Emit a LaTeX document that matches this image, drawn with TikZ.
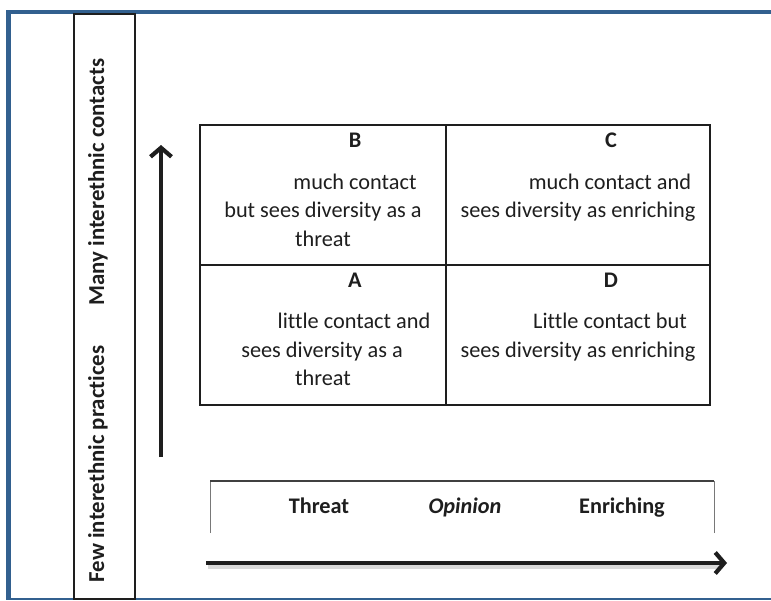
\documentclass[tikz,border=0pt]{standalone}
\usepackage{fontspec}
\setmainfont{Carlito}[Ligatures=NoCommon]
\usetikzlibrary{arrows.meta}
\definecolor{frameblue}{RGB}{50,96,143}
\definecolor{ink}{RGB}{30,30,30}
\tikzset{
  txt/.style={inner sep=0pt, anchor=base, font=\fontsize{22.3}{26}\selectfont, text=ink},
  lab/.style={inner sep=0pt, anchor=base, font=\fontsize{22.3}{26}\selectfont\bfseries, text=ink},
  vlab/.style={inner sep=0pt, rotate=90, font=\fontsize{22.8}{26}\selectfont\bfseries, text=ink},
  gridline/.style={draw=ink, line width=1.9pt},
  axis/.style={draw=ink, line width=4.2pt, -{Straight Barb[length=9pt,width=21pt]}},
}
\begin{document}
\begin{tikzpicture}[x=1pt,y=-1pt]
\useasboundingbox (0,0) rectangle (771,600);
% frame
\draw[frameblue, line width=4.5pt] (772,12) -- (8.5,12) -- (8.5,599);
\draw[frameblue, line width=1.5pt] (6,599) -- (772,599);
% vertical label box
\draw[ink, line width=1.1pt] (74,14) rectangle (135,599);
\node[vlab] (many) at (98,182) {Many interethnic contacts};
\node[vlab] (few) at (98,464) {Few interethnic practices};
% vertical axis
\coordinate (vbot) at (161,457);
\coordinate (vtop) at (161,145);
\draw[axis] (vbot) -- (vtop);
% grid
\draw[gridline] (200,125) rectangle (710,405);
\draw[gridline] (446,125) -- (446,405);
\draw[gridline] (200,265) -- (710,265);
% cell B
\node[lab] (B) at (355,147) {B};
\node[txt] (b1) at (355,189) {much contact};
\node[txt] (b2) at (323,217.5) {but sees diversity as a};
\node[txt] (b3) at (323,246) {threat};
% cell C
\node[lab] (C) at (611,147) {C};
\node[txt] (c1) at (610,189) {much contact and};
\node[txt] (c2) at (578,217.5) {sees diversity as enriching};
% cell A
\node[lab] (A) at (355,287) {A};
\node[txt] (a1) at (354,328.5) {little contact and};
\node[txt] (a2) at (322,357) {sees diversity as a};
\node[txt] (a3) at (323,385.5) {threat};
% cell D
\node[lab] (D) at (611,287) {D};
\node[txt] (d1) at (610,328.5) {Little contact but};
\node[txt] (d2) at (578,357) {sees diversity as enriching};
% opinion box
\draw[ink!60, line width=1pt] (210,533) -- (210,481);
\draw[ink!60, line width=1pt] (714,533) -- (714,481);
\draw[ink!85, line width=1.2pt] (210,481) -- (714,481);
\node[lab] (threat) at (319,513) {Threat};
\node[lab, font=\fontsize{22.3}{26}\selectfont\bfseries\itshape] (opinion) at (465,513) {Opinion};
\node[lab] (enrich) at (622,513) {Enriching};
% horizontal axis
\coordinate (hl) at (206,563);
\coordinate (hr) at (727,563);
\coordinate (hls) at (208,566.5);
\coordinate (hrs) at (722,566.5);
\draw[black!25, line width=4pt, opacity=0.6] (hls) -- (hrs);
\draw[axis] (hl) -- (hr);
\end{tikzpicture}
\end{document}
